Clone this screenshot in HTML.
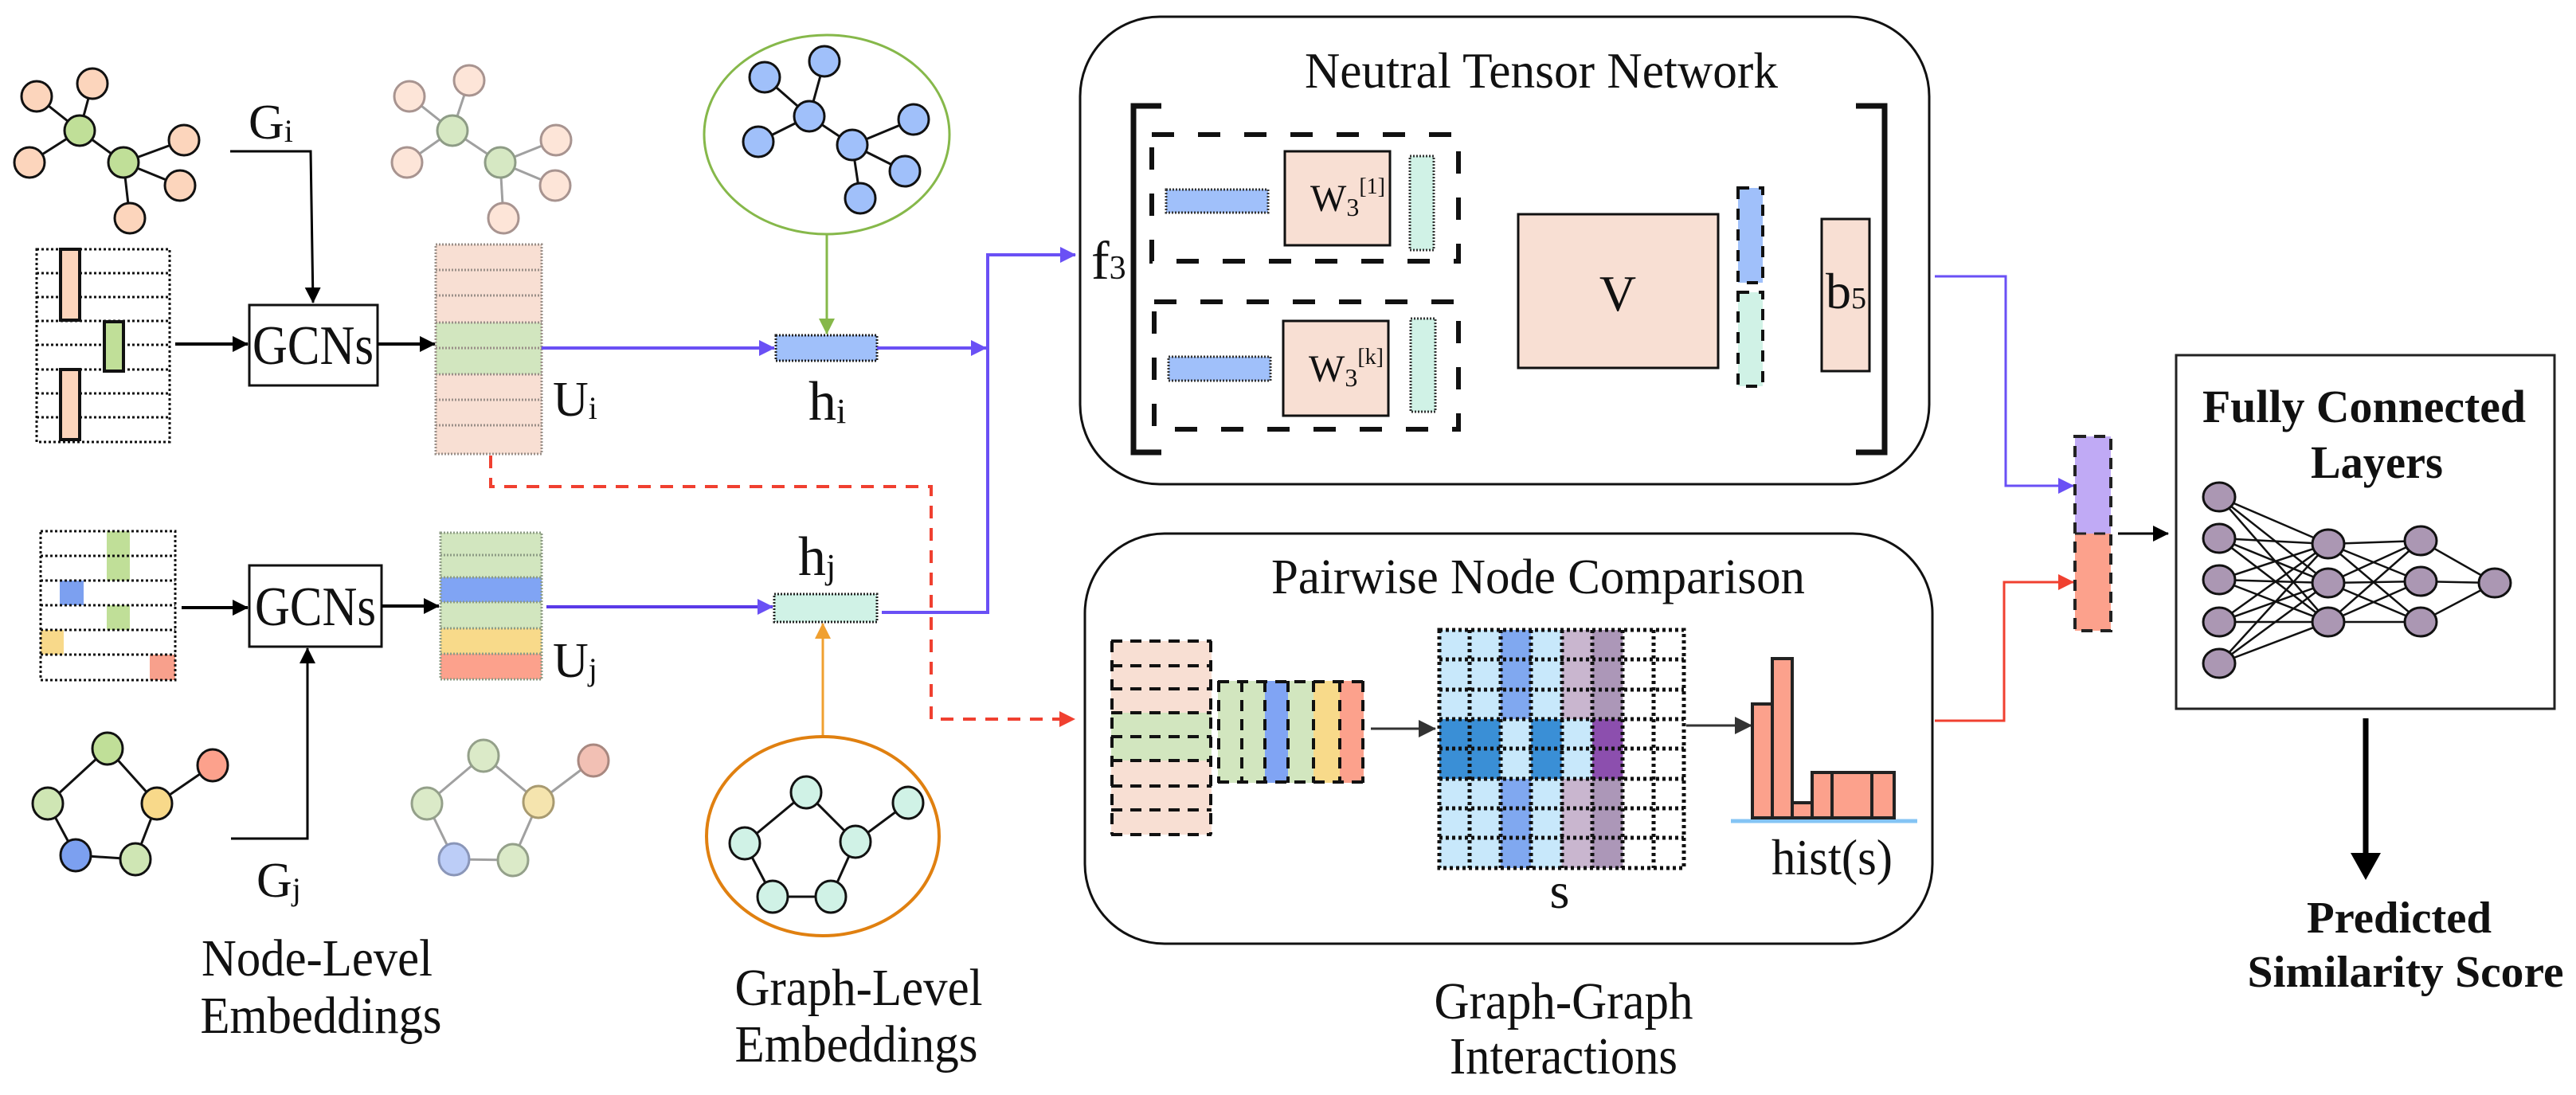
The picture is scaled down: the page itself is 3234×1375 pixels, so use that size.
<!DOCTYPE html>
<html><head><meta charset="utf-8"><style>html,body{margin:0;padding:0;background:#fff}svg{display:block}svg text{font-family:"Liberation Serif","DejaVu Serif",serif;fill:#111}</style></head><body>
<svg width="3234" height="1375" viewBox="0 0 3234 1375" xmlns="http://www.w3.org/2000/svg" font-family="Liberation Serif, DejaVu Serif, serif">
<defs>
<marker id="abk" markerWidth="20" markerHeight="20" refX="19" refY="10" orient="auto" markerUnits="userSpaceOnUse" viewBox="0 0 20 20"><path d="M0,0L20,10L0,20z" fill="#000"/></marker>
<marker id="ap" markerWidth="20" markerHeight="20" refX="19" refY="10" orient="auto" markerUnits="userSpaceOnUse" viewBox="0 0 20 20"><path d="M0,0L20,10L0,20z" fill="#6a50f5"/></marker>
<marker id="ar" markerWidth="20" markerHeight="20" refX="19" refY="10" orient="auto" markerUnits="userSpaceOnUse" viewBox="0 0 20 20"><path d="M0,0L20,10L0,20z" fill="#f04030"/></marker>
<marker id="ag" markerWidth="20" markerHeight="20" refX="19" refY="10" orient="auto" markerUnits="userSpaceOnUse" viewBox="0 0 20 20"><path d="M0,0L20,10L0,20z" fill="#86b84a"/></marker>
<marker id="ao" markerWidth="20" markerHeight="20" refX="19" refY="10" orient="auto" markerUnits="userSpaceOnUse" viewBox="0 0 20 20"><path d="M0,0L20,10L0,20z" fill="#f0a030"/></marker>
<marker id="ad" markerWidth="22" markerHeight="22" refX="21" refY="11" orient="auto" markerUnits="userSpaceOnUse" viewBox="0 0 22 22"><path d="M0,0L22,11L0,22z" fill="#333"/></marker>
</defs>

<!-- Gi graph -->
<g stroke="#111" stroke-width="3">
<line x1="100" y1="164" x2="46" y2="121"/><line x1="100" y1="164" x2="116" y2="105"/><line x1="100" y1="164" x2="37" y2="204"/><line x1="100" y1="164" x2="155" y2="204"/><line x1="155" y1="204" x2="231" y2="176"/><line x1="155" y1="204" x2="226" y2="233"/><line x1="155" y1="204" x2="163" y2="274"/>
</g>
<g stroke="#111" stroke-width="3" fill="#fcd5bc">
<ellipse cx="46" cy="121" rx="19" ry="19"/><ellipse cx="116" cy="105" rx="19" ry="19"/><ellipse cx="37" cy="204" rx="19" ry="19"/><ellipse cx="231" cy="176" rx="19" ry="19"/><ellipse cx="226" cy="233" rx="19" ry="19"/><ellipse cx="163" cy="274" rx="19" ry="19"/>
<ellipse cx="100" cy="164" rx="19" ry="19" fill="#c0df98"/><ellipse cx="155" cy="204" rx="19" ry="19" fill="#c0df98"/>
</g>
<g stroke="#a0a0a0" stroke-width="3">
<line x1="568" y1="164" x2="514" y2="121"/><line x1="568" y1="164" x2="589" y2="101"/><line x1="568" y1="164" x2="511" y2="204"/><line x1="568" y1="164" x2="628" y2="204"/><line x1="628" y1="204" x2="698" y2="176"/><line x1="628" y1="204" x2="697" y2="233"/><line x1="628" y1="204" x2="632" y2="274"/>
</g>
<g stroke="#a89490" stroke-width="3" fill="#fde5d8">
<ellipse cx="514" cy="121" rx="19" ry="19"/><ellipse cx="589" cy="101" rx="19" ry="19"/><ellipse cx="511" cy="204" rx="19" ry="19"/><ellipse cx="698" cy="176" rx="19" ry="19"/><ellipse cx="697" cy="233" rx="19" ry="19"/><ellipse cx="632" cy="274" rx="19" ry="19"/>
<ellipse cx="568" cy="164" rx="19" ry="19" fill="#d6e8c3" stroke="#8e9c86"/><ellipse cx="628" cy="204" rx="19" ry="19" fill="#d6e8c3" stroke="#8e9c86"/>
</g>

<text x="312" y="174" font-size="62">G<tspan font-size="40" dy="4">i</tspan></text>
<polyline points="289,190 390,190 393,380" fill="none" stroke="#000" stroke-width="3" marker-end="url(#abk)"/>

<!-- matrix 1 -->
<g stroke="#111" stroke-width="3" stroke-dasharray="3 3" fill="none">
<rect x="46" y="313" width="167" height="242"/>
<line x1="46" y1="343" x2="213" y2="343"/><line x1="46" y1="373" x2="213" y2="373"/><line x1="46" y1="403" x2="213" y2="403"/><line x1="46" y1="433" x2="213" y2="433"/><line x1="46" y1="464" x2="213" y2="464"/><line x1="46" y1="494" x2="213" y2="494"/><line x1="46" y1="524" x2="213" y2="524"/>
</g>
<g stroke="#111" stroke-width="4">
<rect x="76" y="313" width="24" height="89" fill="#fcd5bc"/><rect x="131" y="404" width="24" height="62" fill="#c0df98"/><rect x="76" y="464" width="24" height="88" fill="#fcd5bc"/>
</g>
<line x1="220" y1="432" x2="311" y2="432" stroke="#000" stroke-width="4" marker-end="url(#abk)"/>
<rect x="313" y="383" width="161" height="101" fill="#fff" stroke="#111" stroke-width="3"/>
<text x="393" y="457" font-size="70" text-anchor="middle" textLength="152" lengthAdjust="spacingAndGlyphs">GCNs</text>
<line x1="474" y1="432" x2="546" y2="432" stroke="#000" stroke-width="4" marker-end="url(#abk)"/>

<!-- Ui -->
<rect x="547" y="307" width="133" height="98" fill="#f8dfd3"/><rect x="547" y="405" width="133" height="65" fill="#d2e6bf"/><rect x="547" y="470" width="133" height="100" fill="#f8dfd3"/>
<g stroke="#9a8f88" stroke-width="3" stroke-dasharray="2 2" fill="none">
<rect x="547" y="307" width="133" height="263"/>
<line x1="547" y1="339" x2="680" y2="339"/><line x1="547" y1="371" x2="680" y2="371"/><line x1="547" y1="405" x2="680" y2="405"/><line x1="547" y1="437" x2="680" y2="437"/><line x1="547" y1="470" x2="680" y2="470"/><line x1="547" y1="502" x2="680" y2="502"/><line x1="547" y1="534" x2="680" y2="534"/>
</g>
<text x="694" y="522" font-size="62">U<tspan font-size="40" dy="4">i</tspan></text>

<!-- hi -->
<line x1="680" y1="437" x2="972" y2="437" stroke="#6a50f5" stroke-width="4" marker-end="url(#ap)"/>
<rect x="974" y="421" width="127" height="32" fill="#a0c0fa" stroke="#222" stroke-width="3" stroke-dasharray="2 2"/>
<text x="1015" y="527" font-size="70">h<tspan font-size="44" dy="4">i</tspan></text>
<ellipse cx="1038" cy="169" rx="154" ry="125" fill="none" stroke="#86b84a" stroke-width="3"/>
<line x1="1038" y1="294" x2="1038" y2="419" stroke="#86b84a" stroke-width="3" marker-end="url(#ag)"/>
<g stroke="#111" stroke-width="3">
<line x1="960" y1="97" x2="1016" y2="146"/><line x1="1035" y1="77" x2="1016" y2="146"/><line x1="1016" y1="146" x2="952" y2="178"/><line x1="1016" y1="146" x2="1070" y2="182"/><line x1="1070" y1="182" x2="1147" y2="150"/><line x1="1070" y1="182" x2="1136" y2="215"/><line x1="1070" y1="182" x2="1080" y2="249"/>
</g>
<g fill="#a0c0fa" stroke="#111" stroke-width="3">
<ellipse cx="960" cy="97" rx="19" ry="19"/><ellipse cx="1035" cy="77" rx="19" ry="19"/><ellipse cx="1016" cy="146" rx="19" ry="19"/><ellipse cx="952" cy="178" rx="19" ry="19"/><ellipse cx="1070" cy="182" rx="19" ry="19"/><ellipse cx="1147" cy="150" rx="19" ry="19"/><ellipse cx="1136" cy="215" rx="19" ry="19"/><ellipse cx="1080" cy="249" rx="19" ry="19"/>
</g>

<line x1="1101" y1="437" x2="1238" y2="437" stroke="#6a50f5" stroke-width="4" marker-end="url(#ap)"/>
<polyline points="1107,769 1240,769 1240,320 1350,320" fill="none" stroke="#6a50f5" stroke-width="4" marker-end="url(#ap)"/>

<polyline points="616,572 616,611 1169,611 1169,903 1349,903" fill="none" stroke="#f04030" stroke-width="4" stroke-dasharray="16 12" marker-end="url(#ar)"/>

<!-- matrix 2 -->
<rect x="134" y="667" width="29" height="62" fill="#c0df98"/><rect x="134" y="760" width="29" height="31" fill="#c0df98"/><rect x="75" y="729" width="30" height="31" fill="#7ca0f0"/><rect x="51" y="791" width="29" height="31" fill="#f8d98a"/><rect x="188" y="822" width="32" height="32" fill="#f8a08c"/>
<g stroke="#111" stroke-width="3" stroke-dasharray="3 3" fill="none">
<rect x="51" y="667" width="169" height="187"/>
<line x1="51" y1="698" x2="220" y2="698"/><line x1="51" y1="729" x2="220" y2="729"/><line x1="51" y1="760" x2="220" y2="760"/><line x1="51" y1="791" x2="220" y2="791"/><line x1="51" y1="822" x2="220" y2="822"/>
</g>
<line x1="228" y1="763" x2="311" y2="763" stroke="#000" stroke-width="4" marker-end="url(#abk)"/>
<rect x="313" y="710" width="166" height="102" fill="#fff" stroke="#111" stroke-width="3"/>
<text x="396" y="785" font-size="70" text-anchor="middle" textLength="152" lengthAdjust="spacingAndGlyphs">GCNs</text>
<line x1="479" y1="761" x2="551" y2="761" stroke="#000" stroke-width="4" marker-end="url(#abk)"/>

<!-- Uj -->
<rect x="553" y="669" width="127" height="56" fill="#d2e6bf"/><rect x="553" y="725" width="127" height="31" fill="#80a4f4"/><rect x="553" y="756" width="127" height="33" fill="#d2e6bf"/><rect x="553" y="789" width="127" height="32" fill="#f8da8a"/><rect x="553" y="821" width="127" height="32" fill="#fca18c"/>
<g stroke="#8e9c86" stroke-width="3" stroke-dasharray="2 2" fill="none">
<rect x="553" y="669" width="127" height="184"/>
<line x1="553" y1="697" x2="680" y2="697"/><line x1="553" y1="725" x2="680" y2="725"/><line x1="553" y1="756" x2="680" y2="756"/><line x1="553" y1="789" x2="680" y2="789"/><line x1="553" y1="821" x2="680" y2="821"/>
</g>
<text x="694" y="850" font-size="62">U<tspan font-size="40" dy="4">j</tspan></text>

<!-- hj -->
<line x1="686" y1="762" x2="970" y2="762" stroke="#5a3ae8" stroke-width="4" marker-end="url(#ap)"/>
<rect x="972" y="746" width="129" height="35" fill="#d0f2e6" stroke="#222" stroke-width="3" stroke-dasharray="2 2"/>
<text x="1002" y="722" font-size="70">h<tspan font-size="44" dy="4">j</tspan></text>
<line x1="1033" y1="925" x2="1033" y2="783" stroke="#f0a030" stroke-width="3" marker-end="url(#ao)"/>
<ellipse cx="1033" cy="1050" rx="146" ry="125" fill="none" stroke="#e08010" stroke-width="4"/>
<g stroke="#111" stroke-width="3">
<line x1="1012" y1="995" x2="935" y2="1059"/><line x1="1012" y1="995" x2="1074" y2="1057"/><line x1="1074" y1="1057" x2="1140" y2="1008"/><line x1="935" y1="1059" x2="970" y2="1126"/><line x1="970" y1="1126" x2="1043" y2="1126"/><line x1="1074" y1="1057" x2="1043" y2="1126"/>
</g>
<g fill="#d0f2e6" stroke="#111" stroke-width="3">
<ellipse cx="1012" cy="995" rx="19" ry="20"/><ellipse cx="1140" cy="1008" rx="19" ry="20"/><ellipse cx="935" cy="1059" rx="19" ry="20"/><ellipse cx="1074" cy="1057" rx="19" ry="20"/><ellipse cx="970" cy="1126" rx="19" ry="20"/><ellipse cx="1043" cy="1126" rx="19" ry="20"/>
</g>

<!-- Gj graph -->
<g stroke="#111" stroke-width="3">
<line x1="135" y1="940" x2="60" y2="1009"/><line x1="135" y1="940" x2="197" y2="1009"/><line x1="197" y1="1009" x2="267" y2="961"/><line x1="60" y1="1009" x2="95" y2="1074"/><line x1="95" y1="1074" x2="170" y2="1079"/><line x1="197" y1="1009" x2="170" y2="1079"/>
</g>
<g stroke="#111" stroke-width="3">
<ellipse cx="135" cy="940" rx="19" ry="20" fill="#c0df98"/><ellipse cx="267" cy="961" rx="19" ry="20" fill="#fca18c"/><ellipse cx="60" cy="1009" rx="19" ry="20" fill="#cfe6b4"/><ellipse cx="197" cy="1009" rx="19" ry="20" fill="#f8d98a"/><ellipse cx="95" cy="1074" rx="19" ry="20" fill="#7ca0f0"/><ellipse cx="170" cy="1079" rx="19" ry="20" fill="#cfe6b4"/>
</g>
<g stroke="#a0a0a0" stroke-width="3">
<line x1="607" y1="949" x2="536" y2="1009"/><line x1="607" y1="949" x2="676" y2="1007"/><line x1="676" y1="1007" x2="745" y2="955"/><line x1="536" y1="1009" x2="570" y2="1079"/><line x1="570" y1="1079" x2="644" y2="1080"/><line x1="676" y1="1007" x2="644" y2="1080"/>
</g>
<g stroke="#94a08a" stroke-width="3">
<ellipse cx="607" cy="949" rx="19" ry="20" fill="#dbeac8"/><ellipse cx="745" cy="955" rx="19" ry="20" fill="#f2c0b4" stroke="#a88880"/><ellipse cx="536" cy="1009" rx="19" ry="20" fill="#dbeac8"/><ellipse cx="676" cy="1007" rx="19" ry="20" fill="#f5e4ae" stroke="#a89a70"/><ellipse cx="570" cy="1079" rx="19" ry="20" fill="#bccdf7" stroke="#8a96b8"/><ellipse cx="644" cy="1080" rx="19" ry="20" fill="#dbeac8"/>
</g>
<polyline points="290,1053 386,1053 386,814" fill="none" stroke="#000" stroke-width="3" marker-end="url(#abk)"/>
<text x="322" y="1126" font-size="62">G<tspan font-size="40" dy="4">j</tspan></text>

<text x="398" y="1225" font-size="66" text-anchor="middle" textLength="290" lengthAdjust="spacingAndGlyphs">Node-Level</text>
<text x="403" y="1297" font-size="66" text-anchor="middle" textLength="303" lengthAdjust="spacingAndGlyphs">Embeddings</text>
<text x="1078" y="1262" font-size="66" text-anchor="middle" textLength="311" lengthAdjust="spacingAndGlyphs">Graph-Level</text>
<text x="1075" y="1333" font-size="66" text-anchor="middle" textLength="305" lengthAdjust="spacingAndGlyphs">Embeddings</text>

<!-- NTN box -->
<rect x="1356" y="21" width="1066" height="587" rx="100" ry="100" fill="none" stroke="#111" stroke-width="3"/>
<text x="1935" y="110" font-size="64" text-anchor="middle" textLength="594" lengthAdjust="spacingAndGlyphs">Neutral Tensor Network</text>
<polyline points="1458,133 1423,133 1423,568 1458,568" fill="none" stroke="#111" stroke-width="7"/>
<polyline points="2330,133 2366,133 2366,568 2330,568" fill="none" stroke="#111" stroke-width="7"/>
<text x="1370" y="350" font-size="68">f<tspan font-size="42">3</tspan></text>
<g fill="none" stroke="#111" stroke-width="6" stroke-dasharray="28 30">
<rect x="1446" y="169" width="385" height="159"/>
<rect x="1449" y="379" width="382" height="160"/>
</g>
<rect x="1464" y="238" width="128" height="29" fill="#a0c0fa" stroke="#333" stroke-width="3" stroke-dasharray="2 2"/>
<rect x="1467" y="448" width="128" height="30" fill="#a0c0fa" stroke="#333" stroke-width="3" stroke-dasharray="2 2"/>
<rect x="1613" y="190" width="132" height="118" fill="#f8dfd3" stroke="#111" stroke-width="3"/>
<rect x="1611" y="403" width="132" height="119" fill="#f8dfd3" stroke="#111" stroke-width="3"/>
<text x="1645" y="265" font-size="48">W<tspan font-size="32" dy="6">3</tspan><tspan font-size="28" dy="-28">[1]</tspan></text>
<text x="1643" y="479" font-size="48">W<tspan font-size="32" dy="6">3</tspan><tspan font-size="28" dy="-28">[k]</tspan></text>
<rect x="1770" y="196" width="30" height="118" fill="#d0f2e6" stroke="#333" stroke-width="3" stroke-dasharray="2 2"/>
<rect x="1771" y="400" width="31" height="117" fill="#d0f2e6" stroke="#333" stroke-width="3" stroke-dasharray="2 2"/>
<rect x="1906" y="269" width="251" height="193" fill="#f8dfd3" stroke="#111" stroke-width="3"/>
<text x="2031" y="390" font-size="64" text-anchor="middle">V</text>
<rect x="2182" y="236" width="31" height="119" fill="#a0c0fa" stroke="#111" stroke-width="4" stroke-dasharray="14 12"/>
<rect x="2182" y="367" width="31" height="118" fill="#d0f2e6" stroke="#111" stroke-width="4" stroke-dasharray="14 12"/>
<rect x="2287" y="275" width="60" height="191" fill="#f8dfd3" stroke="#111" stroke-width="3"/>
<text x="2292" y="387" font-size="64">b<tspan font-size="38">5</tspan></text>

<!-- PNC box -->
<rect x="1362" y="670" width="1064" height="515" rx="100" ry="100" fill="none" stroke="#111" stroke-width="3"/>
<text x="1931" y="745" font-size="62" text-anchor="middle" textLength="670" lengthAdjust="spacingAndGlyphs">Pairwise Node Comparison</text>
<rect x="1395" y="805" width="126" height="243" fill="#f8dfd3"/><rect x="1395" y="895" width="126" height="60" fill="#d2e6bf"/>
<g stroke="#111" stroke-width="4" stroke-dasharray="14 10" fill="none">
<line x1="1395" y1="805" x2="1521" y2="805"/><line x1="1395" y1="836" x2="1521" y2="836"/><line x1="1395" y1="865" x2="1521" y2="865"/><line x1="1395" y1="895" x2="1521" y2="895"/><line x1="1395" y1="925" x2="1521" y2="925"/><line x1="1395" y1="955" x2="1521" y2="955"/><line x1="1395" y1="987" x2="1521" y2="987"/><line x1="1395" y1="1017" x2="1521" y2="1017"/><line x1="1395" y1="1048" x2="1521" y2="1048"/>
<line x1="1396" y1="805" x2="1396" y2="1048"/><line x1="1520" y1="805" x2="1520" y2="1048"/>
</g>
<rect x="1529" y="855" width="59" height="128" fill="#d2e6bf"/><rect x="1588" y="855" width="29" height="128" fill="#80a4f4"/><rect x="1617" y="855" width="32" height="128" fill="#d2e6bf"/><rect x="1649" y="855" width="33" height="128" fill="#f8da8a"/><rect x="1682" y="855" width="30" height="128" fill="#fca18c"/>
<g stroke="#111" stroke-width="4" stroke-dasharray="14 10" fill="none">
<line x1="1530" y1="855" x2="1530" y2="983"/><line x1="1559" y1="855" x2="1559" y2="983"/><line x1="1588" y1="855" x2="1588" y2="983"/><line x1="1617" y1="855" x2="1617" y2="983"/><line x1="1649" y1="855" x2="1649" y2="983"/><line x1="1682" y1="855" x2="1682" y2="983"/><line x1="1711" y1="855" x2="1711" y2="983"/>
<line x1="1529" y1="982" x2="1712" y2="982"/><line x1="1529" y1="856" x2="1712" y2="856"/>
</g>
<line x1="1721" y1="915" x2="1802" y2="915" stroke="#333" stroke-width="3" marker-end="url(#ad)"/>

<!-- matrix s -->
<g>
<rect x="1807" y="791" width="38.4" height="299" fill="#c8e8fb"/><rect x="1845.4" y="791" width="38.4" height="299" fill="#c8e8fb"/><rect x="1883.8" y="791" width="38.4" height="299" fill="#80a8f0"/><rect x="1922.2" y="791" width="38.4" height="299" fill="#c8e8fb"/><rect x="1960.6" y="791" width="38.4" height="299" fill="#c9b6cf"/><rect x="1999" y="791" width="38.4" height="299" fill="#ac97b8"/>
<rect x="1807" y="903" width="38.4" height="75" fill="#3a8fd6"/><rect x="1845.4" y="903" width="38.4" height="75" fill="#3a8fd6"/><rect x="1883.8" y="903" width="38.4" height="75" fill="#c8e8fb"/><rect x="1922.2" y="903" width="38.4" height="75" fill="#3a8fd6"/><rect x="1960.6" y="903" width="38.4" height="75" fill="#c8e8fb"/><rect x="1999" y="903" width="38.4" height="75" fill="#8c4fae"/>
</g>
<g stroke="#111" stroke-width="5" stroke-dasharray="4 4" fill="none">
<rect x="1807" y="791" width="307" height="299"/>
<line x1="1807" y1="828" x2="2114" y2="828"/><line x1="1807" y1="866" x2="2114" y2="866"/><line x1="1807" y1="903" x2="2114" y2="903"/><line x1="1807" y1="940" x2="2114" y2="940"/><line x1="1807" y1="978" x2="2114" y2="978"/><line x1="1807" y1="1015" x2="2114" y2="1015"/><line x1="1807" y1="1052" x2="2114" y2="1052"/>
<line x1="1845" y1="791" x2="1845" y2="1090"/><line x1="1884" y1="791" x2="1884" y2="1090"/><line x1="1922" y1="791" x2="1922" y2="1090"/><line x1="1961" y1="791" x2="1961" y2="1090"/><line x1="1999" y1="791" x2="1999" y2="1090"/><line x1="2037" y1="791" x2="2037" y2="1090"/><line x1="2076" y1="791" x2="2076" y2="1090"/>
</g>
<text x="1958" y="1140" font-size="64" text-anchor="middle">s</text>
<line x1="2117" y1="911" x2="2199" y2="911" stroke="#333" stroke-width="3" marker-end="url(#ad)"/>
<line x1="2173" y1="1031" x2="2407" y2="1031" stroke="#84c4f4" stroke-width="5"/>
<g fill="#fca18c" stroke="#222" stroke-width="4">
<rect x="2200" y="884" width="25" height="143"/><rect x="2225" y="827" width="25" height="200"/><rect x="2250" y="1008" width="25" height="19"/><rect x="2275" y="970" width="25" height="57"/><rect x="2300" y="970" width="50" height="57"/><rect x="2350" y="970" width="28" height="57"/>
</g>
<text x="2300" y="1098" font-size="64" text-anchor="middle" textLength="152" lengthAdjust="spacingAndGlyphs">hist(s)</text>
<text x="1963" y="1279" font-size="66" text-anchor="middle" textLength="325" lengthAdjust="spacingAndGlyphs">Graph-Graph</text>
<text x="1963" y="1348" font-size="66" text-anchor="middle" textLength="286" lengthAdjust="spacingAndGlyphs">Interactions</text>

<polyline points="2429,347 2518,347 2518,610 2603,610" fill="none" stroke="#6a50f5" stroke-width="3" marker-end="url(#ap)"/>
<polyline points="2429,905 2516,905 2516,731 2603,731" fill="none" stroke="#f04030" stroke-width="3" marker-end="url(#ar)"/>
<rect x="2605" y="548" width="45" height="122" fill="#c0aaf5"/><rect x="2605" y="670" width="45" height="122" fill="#fca18c"/>
<rect x="2605" y="548" width="45" height="244" fill="none" stroke="#222" stroke-width="4" stroke-dasharray="14 10"/>
<line x1="2605" y1="670" x2="2650" y2="670" stroke="#222" stroke-width="3" stroke-dasharray="14 10"/>
<line x1="2659" y1="670" x2="2722" y2="670" stroke="#000" stroke-width="3" marker-end="url(#abk)"/>

<!-- FC box -->
<rect x="2732" y="446" width="475" height="444" fill="#fff" stroke="#222" stroke-width="3"/>
<text x="2968" y="530" font-size="58" font-weight="bold" text-anchor="middle" textLength="406" lengthAdjust="spacingAndGlyphs">Fully Connected</text>
<text x="2984" y="600" font-size="58" font-weight="bold" text-anchor="middle" textLength="166" lengthAdjust="spacingAndGlyphs">Layers</text>
<g stroke="#111" stroke-width="2.5">
<line x1="2786" y1="624" x2="2923" y2="683"/><line x1="2786" y1="624" x2="2923" y2="732"/><line x1="2786" y1="624" x2="2923" y2="781"/>
<line x1="2786" y1="676" x2="2923" y2="683"/><line x1="2786" y1="676" x2="2923" y2="732"/><line x1="2786" y1="676" x2="2923" y2="781"/>
<line x1="2786" y1="728" x2="2923" y2="683"/><line x1="2786" y1="728" x2="2923" y2="732"/><line x1="2786" y1="728" x2="2923" y2="781"/>
<line x1="2786" y1="781" x2="2923" y2="683"/><line x1="2786" y1="781" x2="2923" y2="732"/><line x1="2786" y1="781" x2="2923" y2="781"/>
<line x1="2786" y1="833" x2="2923" y2="683"/><line x1="2786" y1="833" x2="2923" y2="732"/><line x1="2786" y1="833" x2="2923" y2="781"/>
<line x1="2923" y1="683" x2="3039" y2="679"/><line x1="2923" y1="683" x2="3039" y2="730"/><line x1="2923" y1="683" x2="3039" y2="781"/>
<line x1="2923" y1="732" x2="3039" y2="679"/><line x1="2923" y1="732" x2="3039" y2="730"/><line x1="2923" y1="732" x2="3039" y2="781"/>
<line x1="2923" y1="781" x2="3039" y2="679"/><line x1="2923" y1="781" x2="3039" y2="730"/><line x1="2923" y1="781" x2="3039" y2="781"/>
<line x1="3039" y1="679" x2="3132" y2="732"/><line x1="3039" y1="730" x2="3132" y2="732"/><line x1="3039" y1="781" x2="3132" y2="732"/>
</g>
<g fill="#ab97b3" stroke="#111" stroke-width="3">
<ellipse cx="2786" cy="624" rx="20" ry="18"/><ellipse cx="2786" cy="676" rx="20" ry="18"/><ellipse cx="2786" cy="728" rx="20" ry="18"/><ellipse cx="2786" cy="781" rx="20" ry="18"/><ellipse cx="2786" cy="833" rx="20" ry="18"/>
<ellipse cx="2923" cy="683" rx="20" ry="18"/><ellipse cx="2923" cy="732" rx="20" ry="18"/><ellipse cx="2923" cy="781" rx="20" ry="18"/>
<ellipse cx="3039" cy="679" rx="20" ry="18"/><ellipse cx="3039" cy="730" rx="20" ry="18"/><ellipse cx="3039" cy="781" rx="20" ry="18"/>
<ellipse cx="3132" cy="732" rx="20" ry="18"/>
</g>
<line x1="2970" y1="902" x2="2970" y2="1075" stroke="#000" stroke-width="7"/>
<path d="M2951,1071 L2989,1071 L2970,1105 Z" fill="#000"/>
<text x="3012" y="1171" font-size="56" font-weight="bold" text-anchor="middle" textLength="232" lengthAdjust="spacingAndGlyphs">Predicted</text>
<text x="3020" y="1239" font-size="56" font-weight="bold" text-anchor="middle" textLength="397" lengthAdjust="spacingAndGlyphs">Similarity Score</text>
</svg>
</body></html>
